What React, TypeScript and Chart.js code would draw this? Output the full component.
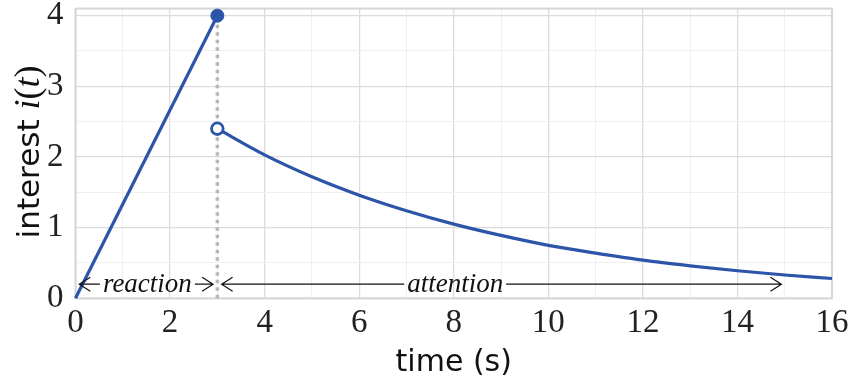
import React, { useEffect, useRef } from "react";
import { Chart, registerables } from "chart.js";

Chart.register(...registerables);

// ---- data ----
const riseTimes = [0, 3];
const riseValues = [0, 4];
const decayTimes = [3, 4, 5, 6, 7, 8, 9, 10, 11, 12, 13, 14, 15, 16];
const decayValues = [2.4, 2.03, 1.72, 1.46, 1.24, 1.05, 0.89, 0.75, 0.64, 0.54, 0.46, 0.39, 0.33, 0.28];
const switchTime = 3;
const peakValue = 4;
const dropValue = 2.4;
const arrowLabels = ["reaction", "attention"];
const arrowStarts = [0.08, 3.09];
const arrowEnds = [2.91, 14.93];
const arrowLabelCenters = [1.52, 8.03];
const arrowLevel = 0.2;
const xTickLabels = ["0", "2", "4", "6", "8", "10", "12", "14", "16"];
const yTickLabels = ["0", "1", "2", "3", "4"];
const xTitle = "time (s)";
const yTitleParts = ["interest ", "i", "(", "t", ")"];

const BLUE = "#2c54a9";
const MAJOR = "#dcdcdc";
const MINOR = "#efefef";
const SERIF = "'Liberation Serif', serif";
const SANS = "'DejaVu Sans', sans-serif";

const overlayPlugin = {
  id: "overlay",
  beforeDatasetsDraw(chart: any) {
    const { ctx, chartArea } = chart;
    ctx.save();
    ctx.strokeStyle = "#d6d6d6";
    ctx.lineWidth = 2;
    ctx.strokeRect(chartArea.left, chartArea.top, chartArea.right - chartArea.left, chartArea.bottom - chartArea.top);
    ctx.restore();
  },
  afterDraw(chart: any) {
    const { ctx, chartArea } = chart;
    const xs = chart.scales.x;
    const ys = chart.scales.y;
    ctx.save();
    // arrows
    ctx.strokeStyle = "#111";
    ctx.fillStyle = "#111";
    ctx.lineWidth = 1.2;
    ctx.font = `italic 27px ${SERIF}`;
    const y = ys.getPixelForValue(arrowLevel);
    arrowLabels.forEach((label, i) => {
      const x1 = xs.getPixelForValue(arrowStarts[i]);
      const x2 = xs.getPixelForValue(arrowEnds[i]);
      const tx = xs.getPixelForValue(arrowLabelCenters[i]);
      const w = ctx.measureText(label).width;
      const gap = 3;
      ctx.beginPath();
      ctx.moveTo(x1, y);
      ctx.lineTo(tx - w / 2 - gap, y);
      ctx.moveTo(tx + w / 2 + gap, y);
      ctx.lineTo(x2, y);
      // heads
      ctx.moveTo(x1 + 11, y - 7);
      ctx.lineTo(x1, y);
      ctx.lineTo(x1 + 11, y + 7);
      ctx.moveTo(x2 - 11, y - 7);
      ctx.lineTo(x2, y);
      ctx.lineTo(x2 - 11, y + 7);
      ctx.stroke();
      ctx.textAlign = "center";
      ctx.textBaseline = "alphabetic";
      ctx.fillText(label, tx, y + 8);
    });
    // x title
    ctx.fillStyle = "#111";
    ctx.font = `30px ${SANS}`;
    ctx.textAlign = "center";
    ctx.textBaseline = "alphabetic";
    ctx.fillText(xTitle, (chartArea.left + chartArea.right) / 2, 371);
    // y title
    const fonts = [`31px ${SANS}`, `italic 36px ${SERIF}`, `36px ${SERIF}`, `italic 36px ${SERIF}`, `36px ${SERIF}`];
    let total = 0;
    const widths = yTitleParts.map((p, i) => {
      ctx.font = fonts[i];
      const w = ctx.measureText(p).width;
      total += w;
      return w;
    });
    ctx.translate(39, 152);
    ctx.rotate(-Math.PI / 2);
    ctx.textAlign = "left";
    let cx = -total / 2;
    yTitleParts.forEach((p, i) => {
      ctx.font = fonts[i];
      ctx.fillText(p, cx, 0);
      cx += widths[i];
    });
    ctx.restore();
  },
};

export default function App() {
  const ref = useRef<HTMLCanvasElement>(null);
  useEffect(() => {
    const canvas = ref.current!;
    const chart = new Chart(canvas, {
      type: "line",
      data: {
        datasets: [
          {
            data: [{ x: switchTime, y: 0 }, { x: switchTime, y: peakValue }],
            borderColor: "#b8b8b8",
            borderWidth: 3.5,
            borderDash: [3.5, 4],
            pointRadius: 0,
            order: 5,
          },
          {
            data: riseTimes.map((t, i) => ({ x: t, y: riseValues[i] })),
            borderColor: BLUE,
            borderWidth: 3.2,
            pointRadius: 0,
            order: 3,
          },
          {
            data: decayTimes.map((t, i) => ({ x: t, y: decayValues[i] })),
            borderColor: BLUE,
            borderWidth: 3.2,
            pointRadius: 0,
            cubicInterpolationMode: "monotone",
            order: 3,
          },
          {
            data: [{ x: switchTime, y: peakValue }],
            showLine: false,
            pointRadius: 6.5,
            pointBackgroundColor: BLUE,
            pointBorderColor: BLUE,
            pointBorderWidth: 1,
            order: 1,
          },
          {
            data: [{ x: switchTime, y: dropValue }],
            showLine: false,
            pointRadius: 5.8,
            pointBackgroundColor: "#ffffff",
            pointBorderColor: BLUE,
            pointBorderWidth: 2.8,
            order: 1,
          },
        ] as any,
      },
      options: {
        animation: false,
        responsive: false,
        clip: false as any,
        layout: { padding: { top: 7, right: 22, left: 0, bottom: 0 } },
        plugins: { legend: { display: false }, tooltip: { enabled: false } },
        scales: {
          x: {
            type: "linear",
            min: 0,
            max: 16,
            afterFit: (s: any) => {
              s.height = 85.7;
              s.paddingLeft = 0;
              s.paddingRight = 0;
            },
            border: { display: false },
            grid: {
              drawTicks: false,
              color: (c: any) => (c.tick && c.tick.value % 2 === 0 ? MAJOR : MINOR),
              lineWidth: (c: any) => (c.tick && c.tick.value % 2 === 0 ? 1.3 : 1),
            },
            ticks: {
              stepSize: 1,
              includeBounds: false,
              padding: 5,
              maxRotation: 0,
              autoSkip: false,
              color: "#222",
              font: { family: SERIF, size: 33 },
              callback: (v: any) => {
                const s = String(v);
                return xTickLabels.includes(s) ? s : "";
              },
            },
          },
          y: {
            type: "linear",
            min: 0,
            max: 4.1,
            afterFit: (s: any) => {
              s.width = 75.5;
              s.paddingTop = 0;
              s.paddingBottom = 0;
            },
            border: { display: false },
            grid: {
              drawTicks: false,
              color: (c: any) => (c.tick && Number.isInteger(c.tick.value) ? MAJOR : MINOR),
              lineWidth: (c: any) => (c.tick && Number.isInteger(c.tick.value) ? 1.3 : 1),
            },
            ticks: {
              stepSize: 0.5,
              includeBounds: false,
              padding: 12,
              autoSkip: false,
              color: "#222",
              font: { family: SERIF, size: 33 },
              callback: (v: any) => {
                const s = String(v);
                return yTickLabels.includes(s) ? s : "";
              },
            },
          },
        },
      },
      plugins: [overlayPlugin],
    });
    return () => chart.destroy();
  }, []);
  return (
    <div style={{ position: "fixed", left: 0, top: 0, width: 854, height: 384, background: "#fff" }}>
      <canvas ref={ref} width={854} height={384} />
    </div>
  );
}
